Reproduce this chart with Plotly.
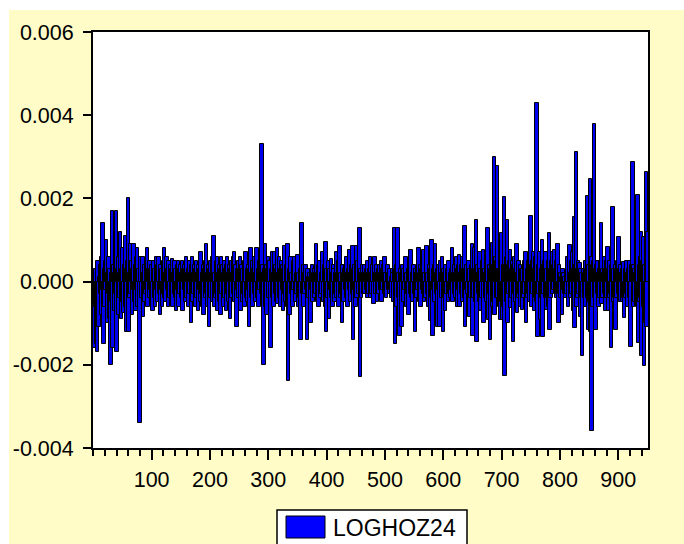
import plotly.graph_objects as go

seg01 = [-140, 20, -160, -60, 30, -150, -170, 50, -40, -110, 10, -30, 40, -80, 60, -20, 140, -150, 30, -60, 50, -20, 100, -100, 20,
         -30, 60, -90, 30, -200, -50, 20, 170, -160, 40, -70, 20, -30, 60, 170, -170, 30, -80, 60, -40, 20, 120, -90, 30, -50]
seg02 = [80, -30, -75, 40, 110, -60, 30, -120, 50, 200, -120, 20, -40, 90, -30, 50, -80, 30, -20, 90, -50, 40, -70, 60, -20,
         80, -60, 30, -10, -340, 20, 60, -40, 30, 60, -85, 20, -50, 40, -30, 50, -20, 80, -60, 30, -40, 50, -20, 30, -50]
seg03 = [40, -70, 20, 50, -40, 30, -60, 60, -20, 40, -50, 20, 60, -30, -80, 40, -20, 30, -60, 50, -30, 80, -40, 20, -50,
         60, -20, 30, -60, 50, -40, 20, 40, -50, 30, 55, -60, 20, -30, 50, -40, 30, -70, 40, -20, 50, -60, 30, -30, 40]
seg04 = [-40, 20, 50, -70, 30, -20, 40, -50, 30, 60, -40, 20, -60, 30, 50, -30, 20, -100, 40, 60, -50, 20, -30, 40, -60,
         30, 50, -40, 20, -70, 40, -20, 30, -50, 70, -30, 20, -60, 40, -80, 30, 50, -40, 90, -30, 20, -60, 40, -110, 30]
seg05 = [50, -40, 20, 60, -50, 30, 110, -60, 20, -40, 50, -30, 60, -70, 20, 40, -50, 30, -80, 60, -30, 40, -60, 20, 50,
         -40, 30, -70, 40, 60, -30, 20, -50, 40, -90, 30, 50, -40, 20, 60, -30, 70, -50, 20, 40, -110, 30, -20, 50, -40]
seg06 = [30, 60, -70, 20, 40, -50, 30, -30, 50, -60, 20, 70, -40, 30, -50, 40, -20, -110, 30, 80, -40, 20, 50, -60, 30,
         -30, 60, -50, 20, 40, 80, -40, 30, -60, 50, -20, 70, -30, 330, 40, -50, 20, -200, 30, 90, -60, 40, -80, 30, 60]
seg07 = [-40, 20, 50, -70, -160, 30, 70, -40, 20, -60, 70, -30, 40, -50, 30, 80, -55, 20, 60, -40, 30, -60, 50, -20, 40,
         -70, 30, -30, 85, -50, 20, 40, -60, 90, -240, 30, -80, 40, 60, -30, 20, -60, 50, -20, 30, 60, -50, 20, -30, 40]
seg08 = [65, -60, 20, -40, 30, -140, 20, 140, -30, 40, -60, 20, -30, 30, 40, -20, -140, 30, 10, -40, 20, 10, -100, 30, -20,
         40, -50, 20, 30, -40, 20, -30, 90, -50, 20, 40, -60, 30, 50, -40, 20, -30, 30, 70, -50, 20, 40, -60, 95, -120]
seg09 = [30, -40, 20, 50, -90, 30, -20, 55, -40, 20, -60, 40, 30, -50, 20, -30, 70, -40, 20, 50, -60, 30, 85, -40, 20,
         -30, -100, 40, 20, -50, 30, -20, 40, 60, -40, 20, -60, 30, -20, 75, -50, 20, 40, -30, 85, -140, 30, -20, 40, -60]
seg10 = [85, -40, 20, 50, -30, 40, 130, -230, 30, -40, 20, 40, -30, 20, 40, -30, 20, -20, 30, -40, 50, -30, 20, 30, 60,
         -40, 20, -30, 40, -20, -55, 30, 60, -30, 20, 40, -50, 20, -30, 30, 40, -20, 20, 50, -50, 30, -20, 40, -30, 60]
seg11 = [-30, 20, -40, 30, 40, -20, 20, -30, 30, -20, 10, -40, 30, 20, -50, 40, 130, -150, 30, -60, 40, 130, -40, 20, -60,
         -130, 30, 20, -110, 40, 20, -50, 30, -20, 40, 60, -60, 20, -30, 30, -80, 20, 40, -30, 75, -40, 20, -50, 30, 40]
seg12 = [-30, -120, 30, 20, -40, 30, -20, 80, -50, 20, 40, -60, 30, -20, 40, -30, 75, -50, 20, -40, 30, 85, -30, 20, -60,
         40, 20, -95, 30, -40, 100, -130, 30, -20, 40, -50, 90, -30, 20, -110, 30, 40, -20, -110, 30, 50, -40, 20, 60, -120]
seg13 = [30, -40, 20, -70, 40, -30, 20, 30, -50, 50, -30, 20, -40, 30, -20, 80, -50, 20, 40, -30, 20, -40, 60, -60, 30,
         -20, 40, 65, -60, 20, -30, 40, 60, -50, 30, -40, 134, -108, 30, -20, 40, -30, 20, 50, -85, 30, -40, 20, 40, 90]
seg14 = [-130, 30, -40, 80, -50, 30, 148, -145, 40, -30, 20, -50, 70, -70, 30, -40, 20, 50, 75, -100, 30, -40, 20, 60, -50,
         30, 130, -92, 40, -30, -140, 30, 50, 92, -60, 40, -50, 300, -80, 60, -40, 50, 277, -40, 30, -60, 28, -92, 40, -50]
seg15 = [116, -92, 40, -60, 203, -228, 40, -50, 60, 148, -100, 40, -30, 50, 76, -64, 30, -40, 50, -144, 40, -30, 60, -50, 30,
         90, -76, 20, -40, 50, -30, 40, -60, 30, 12, -68, 30, -40, 50, -30, 40, 72, -100, 30, -40, 50, -30, 60, -50, 158]
seg16 = [-60, 40, -30, 50, 70, -70, 30, -40, 60, -50, 430, -132, 40, -30, 50, 72, -92, 30, -40, 100, -132, 40, -30, 50, -40,
         70, -68, 30, -40, 50, -60, 116, -116, 30, -40, 50, -30, 70, -20, 40, 76, -28, 30, -40, 50, -30, 90, -100, 40, -30]
seg17 = [20, -40, 10, -80, 30, -20, 20, -30, 10, -40, 20, -30, 30, 60, -60, 30, 88, -40, 20, -30, 50, 70, -70, 30, 156,
         -112, 40, 312, -60, 30, -40, 50, -30, 44, -84, 30, -40, 20, -180, 10, 30, -40, 20, 50, -60, 30, -40, 206, -116, 40]
seg18 = [-50, 246, -120, 60, -360, 40, -60, 50, 380, -40, 30, -116, 40, -30, 50, 20, -60, 30, -40, 50, 140, -55, 30, -40, 20,
         -30, 60, -70, 30, -40, 50, 84, -70, 30, -40, 50, -30, -160, 40, 60, 180, -50, 30, -40, 40, -116, 30, -40, 50, -30]
seg19 = [108, -40, 30, -50, 40, 20, -50, 30, -40, 46, -88, 30, -40, 50, -30, 20, -60, 30, -40, 50, -30, -156, 40, 30, 288,
         -60, 40, -50, 30, 20, -50, 40, -60, 208, -148, 40, -50, 60, -40, 120, -180, 50, -60, 108, -204, 40, -100, 264, -110, 120]

UNIT = 1e-5
series_name = "LOGHOZ24"
y_tick_values = [-0.004, -0.002, 0.000, 0.002, 0.004, 0.006]
y_tick_labels = ["-0.004", "-0.002", "0.000", "0.002", "0.004", "0.006"]
x_tick_values = [100, 200, 300, 400, 500, 600, 700, 800, 900]

segments = [seg01, seg02, seg03, seg04, seg05, seg06, seg07, seg08, seg09, seg10,
            seg11, seg12, seg13, seg14, seg15, seg16, seg17, seg18, seg19]
values = [v * UNIT for seg in segments for v in seg]
obs = list(range(1, len(values) + 1))

YELLOW = "#FFFCC8"
FONT = "Liberation Sans, Arial, sans-serif"

fig = go.Figure()
fig.add_trace(go.Bar(
    x=obs, y=values, name=series_name, width=6,
    marker=dict(color="#0000F0", line=dict(color="black", width=1)),
    showlegend=False,
))

W, H = 684, 544
L, R, T, B = 93, 36, 32, 96
pw, ph = W - L - R, H - T - B


def px_x(p):
    return (p - L) / pw


def px_y(p):
    return (H - B - p) / ph


shapes = [
    # white outer margins (top and left)
    dict(type="rect", xref="paper", yref="paper", x0=px_x(0), x1=px_x(W), y0=px_y(10), y1=px_y(0),
         fillcolor="white", line=dict(width=0), layer="below"),
    dict(type="rect", xref="paper", yref="paper", x0=px_x(0), x1=px_x(9), y0=px_y(H), y1=px_y(0),
         fillcolor="white", line=dict(width=0), layer="below"),
    # legend box
    dict(type="rect", xref="paper", yref="paper", x0=px_x(277), x1=px_x(467), y0=px_y(547), y1=px_y(510),
         fillcolor="white", line=dict(color="black", width=1.5)),
    # legend swatch
    dict(type="rect", xref="paper", yref="paper", x0=px_x(286), x1=px_x(325), y0=px_y(538), y1=px_y(516),
         fillcolor="#0000FF", line=dict(color="black", width=1)),
]

fig.update_layout(
    width=W, height=H,
    margin=dict(l=L, r=R, t=T, b=B, pad=0),
    paper_bgcolor=YELLOW, plot_bgcolor="white",
    font=dict(family=FONT, size=21.5, color="black"),
    bargap=0,
    shapes=shapes,
    annotations=[dict(text=series_name, xref="paper", yref="paper", x=px_x(331), y=px_y(528),
                      xanchor="left", yanchor="middle", showarrow=False,
                      font=dict(family=FONT, size=23, color="black"))],
    xaxis=dict(range=[-0.5, 951], showgrid=False, zeroline=False,
               showline=True, linecolor="black", linewidth=2, mirror=True,
               tickmode="array", tickvals=x_tick_values, ticks="outside", ticklen=10, tickwidth=1.5,
               tickcolor="black", ticklabelstandoff=1,
               minor=dict(dtick=20, tick0=0, ticks="outside", ticklen=6, tickwidth=1.5, tickcolor="black", showgrid=False)),
    yaxis=dict(range=[-0.004, 0.006], showgrid=False, zeroline=False,
               showline=True, linecolor="black", linewidth=2, mirror=True,
               tickmode="array", tickvals=y_tick_values, ticktext=y_tick_labels,
               ticks="outside", ticklen=8, tickwidth=1.5, tickcolor="black", ticklabelstandoff=5),
)

fig.write_html("out.html")
